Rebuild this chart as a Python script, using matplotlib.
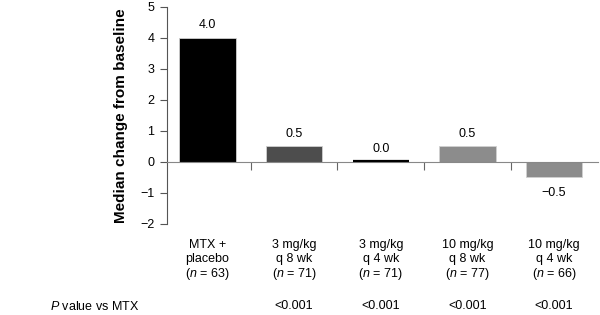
import matplotlib
matplotlib.use("Agg")
import matplotlib.pyplot as plt
import numpy as np
from matplotlib.transforms import blended_transform_factory

plt.rcParams['font.family'] = ['Liberation Sans', 'DejaVu Sans']
plt.rcParams['mathtext.fontset'] = 'custom'
plt.rcParams['mathtext.it'] = 'Liberation Sans:italic'
plt.rcParams['mathtext.rm'] = 'Liberation Sans'

groups = ["MTX +\nplacebo", "3 mg/kg\nq 8 wk", "3 mg/kg\nq 4 wk", "10 mg/kg\nq 8 wk", "10 mg/kg\nq 4 wk"]
n_values = [63, 71, 71, 77, 66]
medians = [4.0, 0.5, 0.0, 0.5, -0.5]
value_labels = ["4.0", "0.5", "0.0", "0.5", "\u22120.5"]
p_values = ["", "<0.001", "<0.001", "<0.001", "<0.001"]
colors = ["#000000", "#4d4d4d", "#000000", "#8c8c8c", "#8c8c8c"]
yticks = [-2, -1, 0, 1, 2, 3, 4, 5]

fig = plt.figure(figsize=(6, 3.15), dpi=100)
ax = fig.add_axes([0.278, 0.289, 0.719, 0.689])

x = np.arange(len(groups))
ax.bar(x, medians, width=0.65, color=colors, edgecolor="#d0d0d0", linewidth=0.6, zorder=2)
for xi, v, c in zip(x, medians, colors):
    if v == 0:
        ax.hlines(0.02, xi - 0.325, xi + 0.325, color=c, linewidth=1.6, zorder=3)

ax.set_xlim(-0.47, 4.51)
ax.set_ylim(-2, 5)
ax.set_yticks(yticks)
ax.set_yticklabels([("\u2212%d" % -t) if t < 0 else str(t) for t in yticks], fontsize=9)

for s in ["top", "right"]:
    ax.spines[s].set_visible(False)
ax.spines["left"].set_color("#555555")
ax.spines["left"].set_linewidth(0.8)
ax.spines["bottom"].set_position(("data", 0))
ax.spines["bottom"].set_color("#888888")
ax.spines["bottom"].set_linewidth(0.8)
ax.tick_params(axis="y", direction="out", length=5, width=0.8, color="#555555", pad=4)
ax.set_xticks([])
ax.set_xticks(x[:-1] + 0.5, minor=True)
ax.tick_params(axis="x", which="minor", direction="out", length=6, width=0.8, color="#666666", labelbottom=False)

ax.set_ylabel("Median change from baseline", fontsize=11, fontweight="bold", labelpad=9)

for xi, v, lab in zip(x, medians, value_labels):
    if v >= 0:
        ax.annotate(lab, (xi, v), xytext=(0, 5), textcoords="offset points", ha="center", va="bottom", fontsize=9)
    else:
        ax.annotate(lab, (xi, v), xytext=(0, -7), textcoords="offset points", ha="center", va="top", fontsize=9)

tr = blended_transform_factory(ax.transData, fig.transFigure)
for xi, g, n, p in zip(x, groups, n_values, p_values):
    ax.text(xi, 1 - 252 / 315, g, transform=tr, ha="center", va="center", fontsize=9, linespacing=1.25)
    ax.text(xi, 1 - 274 / 315, "($\\it{n}$ = %d)" % n, transform=tr, ha="center", va="center", fontsize=9)
    if p:
        ax.text(xi, 1 - 306 / 315, p, transform=tr, ha="center", va="center", fontsize=9)

fig.text(50 / 600, 1 - 306 / 315, "$\\it{P}$ value vs MTX", ha="left", va="center", fontsize=9)

fig.savefig("out.png", dpi=100)
